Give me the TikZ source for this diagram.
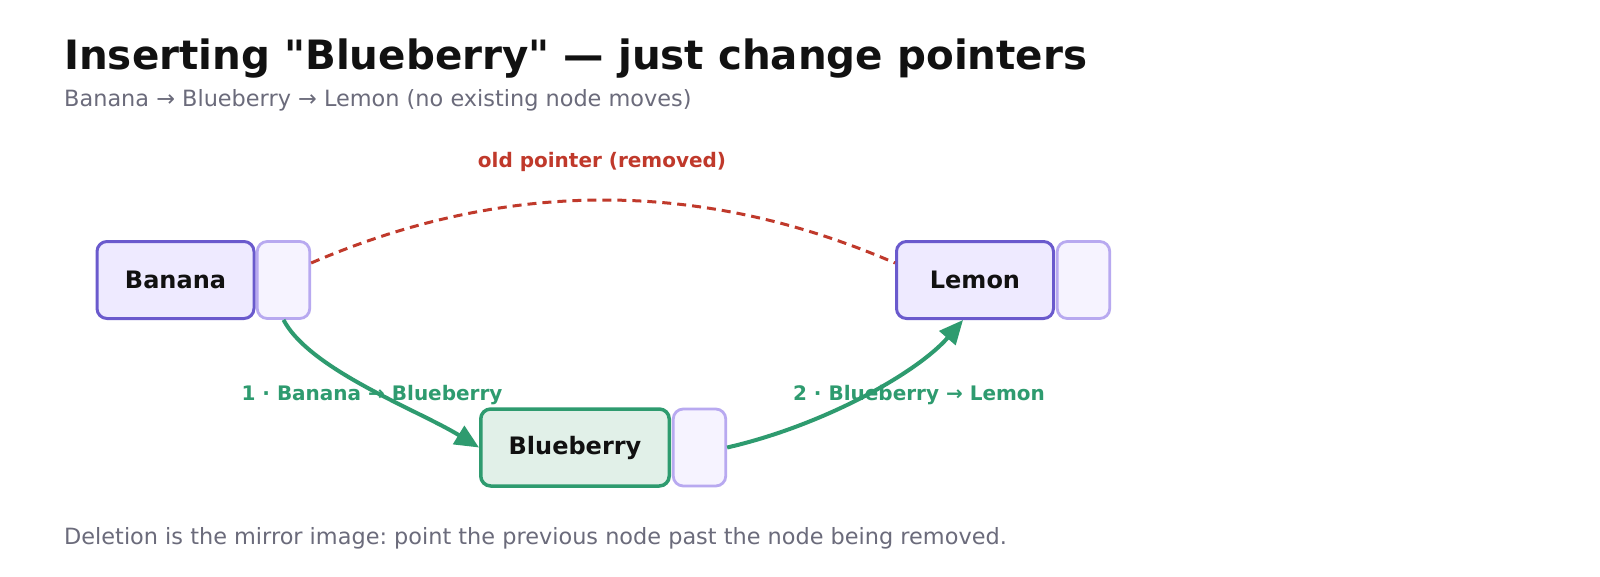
\documentclass[tikz,border=0pt]{standalone}
\usepackage{fontspec}
\setmainfont{DejaVu Sans}
\newfontfamily\plainfont{DejaVu Sans}
\usetikzlibrary{arrows.meta,calc}
\definecolor{ink}{HTML}{111111}
\definecolor{muted}{HTML}{6B6B7B}
\definecolor{nodeedge}{HTML}{6A5ACD}
\definecolor{nodefill}{HTML}{EEEAFF}
\definecolor{ptredge}{HTML}{B8A9F0}
\definecolor{ptrfill}{HTML}{F6F3FF}
\definecolor{newedge}{HTML}{2E9B6F}
\definecolor{newfill}{HTML}{E1F0E8}
\definecolor{oldred}{HTML}{C0392B}
\frenchspacing
\begin{document}
\begin{tikzpicture}[x=1pt,y=-1pt,
  valbox/.style={draw=nodeedge, fill=nodefill, line width=3pt, rounded corners=10pt,
    minimum height=77pt, minimum width=157pt, inner sep=0pt,
    font=\fontsize{24}{28}\selectfont\bfseries, text=ink},
  newbox/.style={valbox, draw=newedge, fill=newfill, line width=3.5pt, minimum width=188.5pt},
  ptrbox/.style={draw=ptredge, fill=ptrfill, line width=2.8pt, rounded corners=10pt,
    minimum height=77pt, minimum width=52.5pt, inner sep=0pt},
  newarrow/.style={draw=newedge, line width=4pt, -{Triangle[length=24pt,width=21pt]}},
  oldptr/.style={draw=oldred, line width=3pt, dash pattern=on 9pt off 6pt},
  newlabel/.style={font=\fontsize{20}{24}\selectfont\bfseries, text=newedge, anchor=base},
  oldlabel/.style={font=\fontsize{20}{24}\selectfont\bfseries, text=oldred, anchor=base},
  muttext/.style={font=\fontsize{22.4}{26}\selectfont, text=muted, anchor=base west, inner sep=0pt},
  titletext/.style={font=\plainfont\fontsize{40.4}{48}\selectfont\bfseries, text=ink, anchor=base west, inner sep=0pt}
]
\fill[white] (0,0) rectangle (1600,576);
\useasboundingbox (0,0) rectangle (1600,576);

\node[titletext] (title) at (64,69) {Inserting "Blueberry" — just change pointers};
\node[muttext] (subtitle) at (64,106) {Banana → Blueberry → Lemon (no existing node moves)};
\node[muttext] (footer) at (64,544) {Deletion is the mirror image: point the previous node past the node being removed.};

\node[valbox] (banana) at (175.5,280) {\raisebox{-2pt}{Banana}};
\node[ptrbox] (bptr) at (283.5,280) {};
\node[valbox] (lemon) at (975,280) {\raisebox{-2pt}{Lemon}};
\node[ptrbox] (lptr) at (1083.5,280) {};
\node[newbox] (blue) at (575,447.5) {\raisebox{-2pt}{Blueberry}};
\node[ptrbox] (blptr) at (699.5,447.5) {};

\node[oldlabel] (oldlab) at (602,167) {old pointer (removed)};
\node[newlabel] (lab1) at (372,400) {1 · Banana → Blueberry};
\node[newlabel] (lab2) at (919,400) {2 · Blueberry → Lemon};

\draw[oldptr] ($(bptr.east)+(0,-17)$) .. controls (506,179) and (701.5,179) .. ($(lemon.west)+(0,-17)$);
\draw[newarrow] (bptr.south) .. controls (310,370) and (418,410) .. (blue.west);
\draw[newarrow] (blptr.east) .. controls (825,425) and (918,372) .. ($(lemon.south)+(-12,0)$);
\end{tikzpicture}
\end{document}
